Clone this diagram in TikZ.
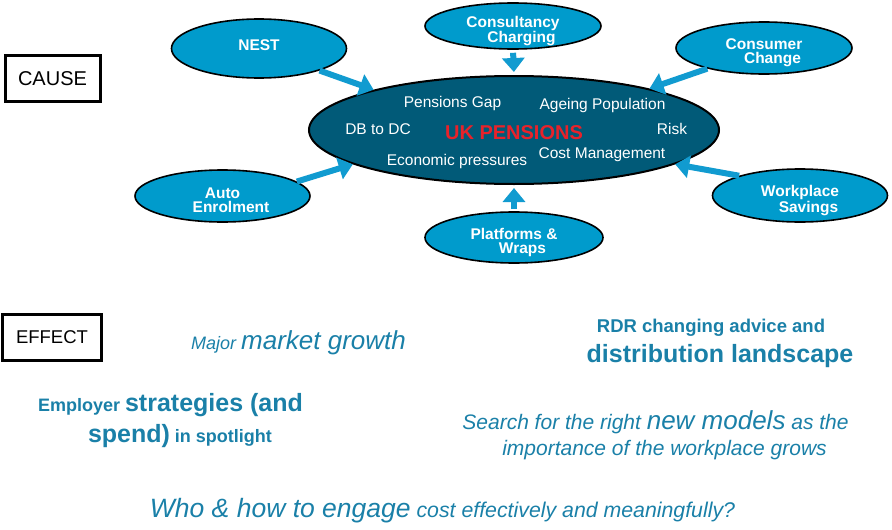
\documentclass[tikz,border=0pt]{standalone}
\usepackage{fontspec}
\setmainfont{Liberation Sans}
\usetikzlibrary{shapes.geometric,arrows.meta}
\definecolor{causeblue}{RGB}{0,155,204}
\definecolor{coredark}{RGB}{1,90,120}
\definecolor{arrowblue}{RGB}{17,155,208}
\definecolor{effectblue}{RGB}{26,128,168}
\definecolor{ukred}{RGB}{232,34,42}
\newcommand{\fsz}[1]{\fontsize{#1}{#1}\selectfont}
\newcommand{\nl}{\\\hspace*{17pt}}
\tikzset{
  cause/.style={ellipse,draw=black,line width=1.6pt,fill=causeblue,inner sep=0pt},
  causetext/.style={text=white,inner sep=0pt,align=center,
    font=\bfseries\fontsize{15.5}{13.8}\selectfont},
  push/.style={draw=arrowblue,line width=6pt,-{Triangle[width=22pt,length=14pt]}},
  word/.style={anchor=base,text=white,font=\fontsize{15.5}{17}\selectfont},
  effect/.style={anchor=base,text=effectblue},
  tag/.style={draw=black,line width=3pt,minimum height=46pt,inner sep=0pt}
}
\begin{document}
\begin{tikzpicture}[x=1pt,y=-1pt]
    \useasboundingbox (0,0) rectangle (892,530);
    \node[tag,minimum width=95pt,font=\fsz{20}] (cause) at (52.5,78.5) {CAUSE};
    \node[tag,minimum width=99pt,font=\fsz{18.5}] (effect) at (52,337) {EFFECT};
    \node[ellipse,draw=black,line width=2pt,fill=coredark,minimum width=410pt,
      minimum height=108pt] (main) at (514,130) {};
    \foreach \x/\y/\t [count=\i] in {452.5/107.5/Pensions Gap,602.5/109/Ageing Population,
      378/134/DB to DC,672/134/Risk,602/158/Cost Management,457/165/Economic pressures}{%
      \node[word] (word\i) at (\x,\y) {\t};
    }
    \node[anchor=base,text=ukred,font=\bfseries\fsz{20}] (core) at (514,139) {UK PENSIONS};
    \foreach \n/\x/\y/\w/\h/\s/\t in {nest/259/48.5/175/59/-3.5/{NEST},
      consult/513/26/176/46/5/{Consultancy\nl Charging},
      consumer/764/48/176/52/5/{Consumer\nl Change},
      auto/222.5/196/175/52/4.5/{Auto\nl Enrolment},
      workplace/800/195.5/175/53/5/{Workplace\nl Savings},
      platforms/514/237.5/178/51/5/{Platforms \&\nl Wraps}}{%
      \node[cause,minimum width=\w pt,minimum height=\h pt] (\n) at (\x,\y) {};
      \node[causetext] (\n-text) at (\x,\y+\s) {\t};
    }
    \draw[push] (nest.-20) -- (main.164);
    \draw[push,shorten <=3pt,shorten >=3pt] (consult.south) -- (main.north);
    \draw[push] (consumer.200) -- (main.17);
    \draw[push] (auto.11) -- (main.192);
    \draw[push] (workplace.162) -- (main.348);
    \draw[push,shorten <=2pt,shorten >=3pt] (platforms.north) -- (main.south);
    \node[effect,font=\itshape\fsz{18}] (growth) at (298.5,349)
      {Major {\fsz{26}market growth}};
    \node[effect,font=\bfseries\fsz{18.5}] (rdrA) at (711,332) {RDR changing advice and};
    \node[effect,font=\bfseries\fsz{25}] (rdrB) at (720,362) {distribution landscape};
    \node[effect,font=\bfseries\fsz{18}] (employA) at (170.5,411.5)
      {Employer {\fsz{25}strategies (and}};
    \node[effect,font=\bfseries\fsz{18}] (employB) at (180,442.5)
      {{\fsz{25}spend)} in spotlight};
    \node[effect,font=\itshape\fsz{21}] (searchA) at (655.5,429)
      {Search for the right {\fsz{26}new models} as the};
    \node[effect,font=\itshape\fsz{21}] (searchB) at (664.5,455.5)
      {importance of the workplace grows};
    \node[effect,font=\itshape\fsz{21.3}] (engage) at (442.5,517)
      {{\fsz{26.5}Who \& how to engage} cost effectively and meaningfully?};
\end{tikzpicture}
\end{document}
